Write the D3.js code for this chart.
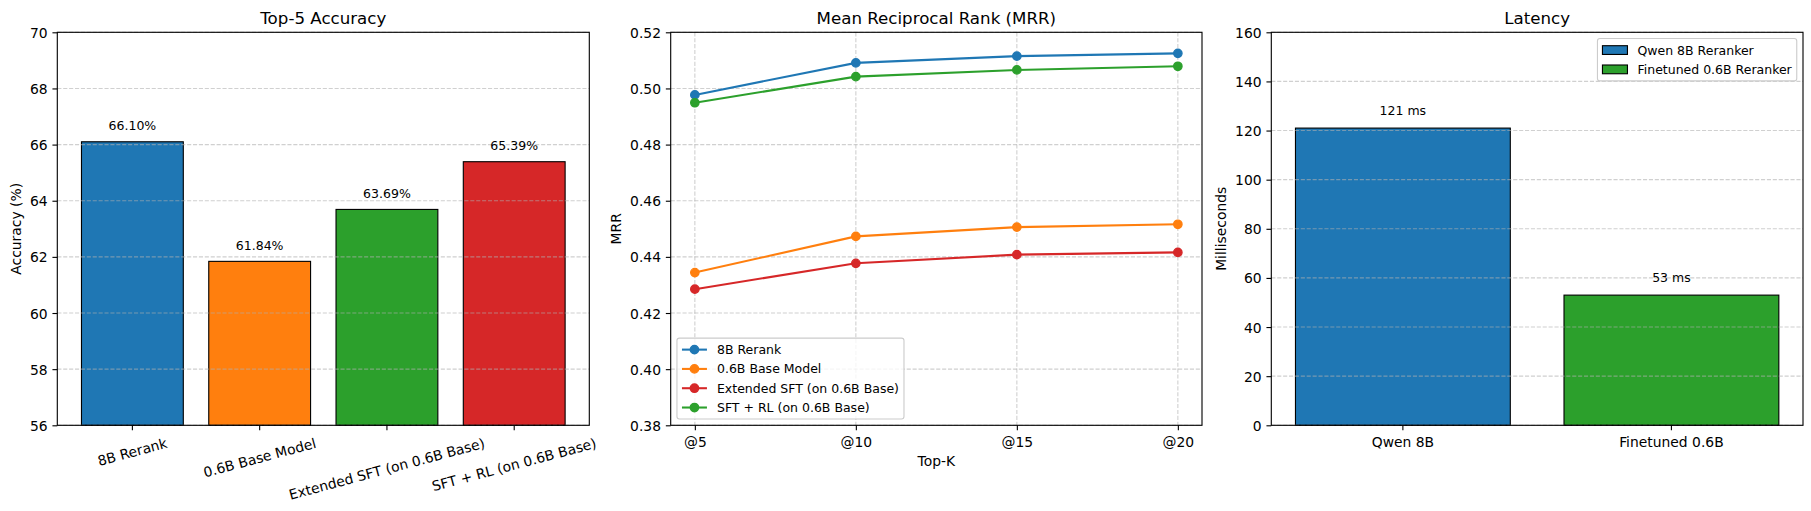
<!DOCTYPE html>
<html>
<head>
<meta charset="utf-8">
<script src="https://cdn.jsdelivr.net/npm/d3@7"></script>
<style>
  body { margin: 0; background: #fff; }
  svg { display: block; font-family: "DejaVu Sans", sans-serif; }
</style>
</head>
<body>
<svg id="chart" width="1811" height="511"></svg>
<script>
// ---- data ----
const accModels = ["8B Rerank", "0.6B Base Model", "Extended SFT (on 0.6B Base)", "SFT + RL (on 0.6B Base)"];
const accValues = [66.10, 61.84, 63.69, 65.39];
const accTicks = [56, 58, 60, 62, 64, 66, 68, 70];

const topK = ["@5", "@10", "@15", "@20"];
const mrrNames = ["8B Rerank", "0.6B Base Model", "Extended SFT (on 0.6B Base)", "SFT + RL (on 0.6B Base)"];
const mrr8B = [0.4977, 0.5091, 0.5115, 0.5125];
const mrrBase = [0.4344, 0.4473, 0.4506, 0.4516];
const mrrExtSft = [0.4285, 0.4377, 0.4408, 0.4416];
const mrrSftRl = [0.4949, 0.5042, 0.5066, 0.5079];
const mrrTicks = [0.38, 0.40, 0.42, 0.44, 0.46, 0.48, 0.50, 0.52];

const latModels = ["Qwen 8B", "Finetuned 0.6B"];
const latLegend = ["Qwen 8B Reranker", "Finetuned 0.6B Reranker"];
const latValues = [121, 53];
const latTicks = [0, 20, 40, 60, 80, 100, 120, 140, 160];

// colours
const accColors = ["#1f77b4", "#ff7f0e", "#2ca02c", "#d62728"];
const mrrColors = ["#1f77b4", "#ff7f0e", "#d62728", "#2ca02c"];
const latColors = ["#1f77b4", "#2ca02c"];

// ---- layout (matplotlib-ish, 100 dpi) ----
const PT = 100 / 72;
const FONT = '"DejaVu Sans", sans-serif';
const TOP = 32.3, BOT = 425.3;
const tickLen = 3.5 * PT, tickPad = 3.5 * PT;
const tickFs = 10 * PT, titleFs = 12 * PT, smallFs = 9 * PT;
const markerR = 3 * PT;

const svg = d3.select("#chart");

function makeAxes(x0, x1, title) {
  const g = svg.append("g").attr("transform", `translate(${x0},${TOP})`);
  const w = x1 - x0, h = BOT - TOP;
  g.append("text")
    .attr("x", w / 2).attr("y", -6 * PT)
    .attr("text-anchor", "middle")
    .style("font-size", `${titleFs}px`)
    .text(title);
  return { g, w, h };
}

function styleAxis(sel) {
  sel.select(".domain").remove();
  sel.selectAll(".tick line").attr("stroke", "#000").attr("stroke-width", 0.8 * PT);
  sel.selectAll(".tick text")
    .attr("fill", "#000")
    .style("font-size", `${tickFs}px`)
    .style("font-family", FONT);
}

function yAxis(ctx, y, ticks, fmt, label) {
  const ax = ctx.g.append("g")
    .call(d3.axisLeft(y).tickValues(ticks).tickSize(tickLen).tickPadding(tickPad).tickFormat(fmt))
    .call(styleAxis);
  ax.selectAll(".tick text").attr("dy", "0.36em");
  let maxW = 0;
  ax.selectAll(".tick text").each(function () { maxW = Math.max(maxW, this.getComputedTextLength()); });
  const right = -tickLen - tickPad - maxW - 4 * PT;
  ctx.g.append("text")
    .attr("transform", `translate(${right - 0.236 * tickFs},${ctx.h / 2}) rotate(-90)`)
    .attr("text-anchor", "middle")
    .style("font-size", `${tickFs}px`)
    .text(label);
}

function xAxis(ctx, x) {
  const ax = ctx.g.append("g")
    .attr("transform", `translate(0,${ctx.h})`)
    .call(d3.axisBottom(x).tickSize(tickLen).tickPadding(tickPad))
    .call(styleAxis);
  ax.selectAll(".tick text").attr("dy", "0.86em");
  return ax;
}

function hGrid(ctx, y, ticks) {
  ctx.g.append("g").selectAll("line").data(ticks).join("line")
    .attr("x1", 0).attr("x2", ctx.w)
    .attr("y1", d => y(d)).attr("y2", d => y(d))
    .attr("stroke", "#b0b0b0").attr("stroke-opacity", 0.6)
    .attr("stroke-width", 0.8 * PT).attr("stroke-dasharray", "4.1,1.8");
}

function vGrid(ctx, x, cats) {
  ctx.g.append("g").selectAll("line").data(cats).join("line")
    .attr("y1", 0).attr("y2", ctx.h)
    .attr("x1", d => x(d)).attr("x2", d => x(d))
    .attr("stroke", "#b0b0b0").attr("stroke-opacity", 0.6)
    .attr("stroke-width", 0.8 * PT).attr("stroke-dasharray", "4.1,1.8");
}

function spines(ctx) {
  ctx.g.append("rect")
    .attr("width", ctx.w).attr("height", ctx.h)
    .attr("fill", "none").attr("stroke", "#000").attr("stroke-width", 0.8 * PT);
}

function legend(ctx, items, corner, handle) {
  const fs = smallFs, pad = 0.4 * fs, rowH = 1.044 * fs, gap = 0.5 * fs;
  const hl = 2 * fs, htp = 0.8 * fs, bap = 0.5 * fs;
  const lg = ctx.g.append("g");
  const box = lg.append("rect");
  const rows = lg.selectAll("g.row").data(items).join("g").attr("class", "row");
  const texts = rows.append("text")
    .style("font-size", `${fs}px`)
    .attr("dy", "0.36em")
    .text(d => d.label);
  let maxW = 0;
  texts.each(function () { maxW = Math.max(maxW, this.getComputedTextLength()); });
  const bw = 2 * pad + hl + htp + maxW;
  const bh = 2 * pad + items.length * rowH + (items.length - 1) * gap;
  const bx = corner === "upper right" ? ctx.w - bap - bw : bap;
  const by = corner === "upper right" ? bap : ctx.h - bap - bh;
  box.attr("x", bx).attr("y", by).attr("width", bw).attr("height", bh)
    .attr("rx", 2.5).attr("fill", "#fff").attr("fill-opacity", 0.8)
    .attr("stroke", "#cccccc").attr("stroke-width", 0.8 * PT);
  rows.attr("transform", (d, i) => `translate(${bx + pad},${by + pad + rowH / 2 + i * (rowH + gap)})`);
  texts.attr("x", hl + htp);
  rows.each(function (d) { handle(d3.select(this), d, hl, fs); });
}

// ---- panel 1: Top-5 Accuracy ----
{
  const ctx = makeAxes(57.3, 589.3, "Top-5 Accuracy");
  const x = d3.scaleBand().domain(accModels).range([0, ctx.w]).paddingInner(0.2).paddingOuter(0.19);
  const y = d3.scaleLinear().domain([56, 70]).range([ctx.h, 0]);

  ctx.g.append("g").selectAll("rect").data(accModels).join("rect")
    .attr("x", d => x(d)).attr("width", x.bandwidth())
    .attr("y", (d, i) => y(accValues[i])).attr("height", (d, i) => ctx.h - y(accValues[i]))
    .attr("fill", (d, i) => accColors[i])
    .attr("stroke", "#000").attr("stroke-width", 0.8 * PT);

  hGrid(ctx, y, accTicks);

  ctx.g.append("g").selectAll("text").data(accModels).join("text")
    .attr("x", d => x(d) + x.bandwidth() / 2)
    .attr("y", (d, i) => y(accValues[i] + 0.3) - 0.236 * smallFs)
    .attr("text-anchor", "middle")
    .style("font-size", `${smallFs}px`)
    .text((d, i) => accValues[i].toFixed(2) + "%");

  yAxis(ctx, y, accTicks, d => d3.format("d")(d), "Accuracy (%)");
  const ax = xAxis(ctx, x);
  const ang = 15 * Math.PI / 180;
  ax.selectAll(".tick text").each(function () {
    const t = d3.select(this);
    const w = this.getComputedTextLength();
    const bh = w * Math.sin(ang) + 1.164 * tickFs * Math.cos(ang);
    t.attr("y", 0).attr("dy", "0.346em")
      .attr("transform", `translate(0,${tickLen + tickPad + bh / 2}) rotate(-15)`);
  });
  spines(ctx);
}

// ---- panel 2: MRR ----
{
  const ctx = makeAxes(670.7, 1202, "Mean Reciprocal Rank (MRR)");
  const x = d3.scalePoint().domain(topK).range([0, ctx.w]).padding(0.15);
  const y = d3.scaleLinear().domain([0.38, 0.52]).range([ctx.h, 0]);
  const series = [mrr8B, mrrBase, mrrExtSft, mrrSftRl];

  hGrid(ctx, y, mrrTicks);
  vGrid(ctx, x, topK);

  const line = d3.line().x((d, i) => x(topK[i])).y(d => y(d));
  series.forEach((vals, s) => {
    ctx.g.append("path").datum(vals)
      .attr("d", line).attr("fill", "none")
      .attr("stroke", mrrColors[s]).attr("stroke-width", 1.5 * PT);
    ctx.g.append("g").selectAll("circle").data(vals).join("circle")
      .attr("cx", (d, i) => x(topK[i])).attr("cy", d => y(d))
      .attr("r", markerR).attr("fill", mrrColors[s])
      .attr("stroke", mrrColors[s]).attr("stroke-width", PT);
  });

  yAxis(ctx, y, mrrTicks, d3.format(".2f"), "MRR");
  xAxis(ctx, x);
  ctx.g.append("text")
    .attr("x", ctx.w / 2).attr("y", ctx.h + 41)
    .attr("text-anchor", "middle")
    .style("font-size", `${tickFs}px`)
    .text("Top-K");

  legend(ctx, mrrNames.map((n, i) => ({ label: n, color: mrrColors[i] })), "lower left", (row, d, hl) => {
    row.append("line").attr("x1", 0).attr("x2", hl)
      .attr("stroke", d.color).attr("stroke-width", 1.5 * PT);
    row.append("circle").attr("cx", hl / 2).attr("r", markerR)
      .attr("fill", d.color).attr("stroke", d.color).attr("stroke-width", PT);
  });
  spines(ctx);
}

// ---- panel 3: Latency ----
{
  const ctx = makeAxes(1271.3, 1803, "Latency");
  const x = d3.scaleBand().domain(latModels).range([0, ctx.w]).paddingInner(0.2).paddingOuter(0.09);
  const y = d3.scaleLinear().domain([0, 160]).range([ctx.h, 0]);

  ctx.g.append("g").selectAll("rect").data(latModels).join("rect")
    .attr("x", d => x(d)).attr("width", x.bandwidth())
    .attr("y", (d, i) => y(latValues[i])).attr("height", (d, i) => ctx.h - y(latValues[i]))
    .attr("fill", (d, i) => latColors[i])
    .attr("stroke", "#000").attr("stroke-width", 0.8 * PT);

  hGrid(ctx, y, latTicks);

  ctx.g.append("g").selectAll("text").data(latModels).join("text")
    .attr("x", d => x(d) + x.bandwidth() / 2)
    .attr("y", (d, i) => y(latValues[i] + 4) - 0.236 * smallFs)
    .attr("text-anchor", "middle")
    .style("font-size", `${smallFs}px`)
    .text((d, i) => d3.format(".0f")(latValues[i]) + " ms");

  yAxis(ctx, y, latTicks, d3.format("d"), "Milliseconds");
  xAxis(ctx, x);

  legend(ctx, latLegend.map((n, i) => ({ label: n, color: latColors[i] })), "upper right", (row, d, hl, fs) => {
    row.append("rect").attr("x", 0).attr("y", -0.35 * fs).attr("width", hl).attr("height", 0.7 * fs)
      .attr("fill", d.color).attr("stroke", "#000").attr("stroke-width", 0.8 * PT);
  });
  spines(ctx);
}
</script>
</body>
</html>
